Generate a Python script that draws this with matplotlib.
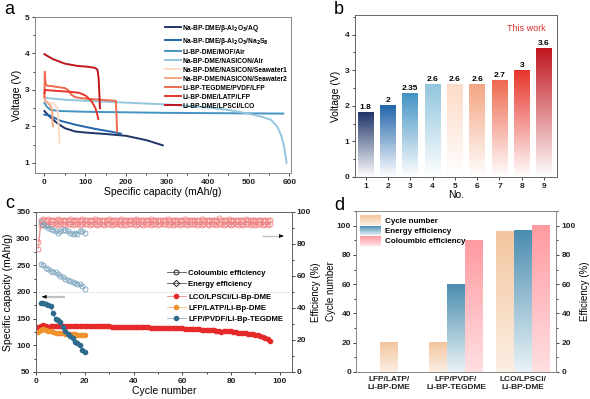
import matplotlib
matplotlib.use("Agg")
import matplotlib.pyplot as plt
import numpy as np
from matplotlib.colors import to_rgb
from matplotlib.legend_handler import HandlerBase
from matplotlib.lines import Line2D
from matplotlib.patches import Rectangle
from matplotlib.ticker import MultipleLocator

plt.rcParams["font.family"] = ["Liberation Sans", "DejaVu Sans"]
plt.rcParams["font.weight"] = "bold"

# ---------------- panel a: discharge curves ----------------
a_labels = [
    "Na-BP-DME/β-Al$_2$O$_3$/AQ",
    "Na-BP-DME/β-Al$_2$O$_3$/Na$_2$S$_8$",
    "Li-BP-DME/MOF/Air",
    "Na-BP-DME/NASICON/Air",
    "Na-BP-DME/NASICON/Seawater1",
    "Na-BP-DME/NASICON/Seawater2",
    "Li-BP-TEGDME/PVDF/LFP",
    "Li-BP-DME/LATP/LFP",
    "Li-BP-DME/LPSCl/LCO",
]
palette = ["#1f3468", "#2166ac", "#4393c3", "#92c5de", "#fddbc7",
           "#f4a582", "#ee6a50", "#e8352b", "#c0161e"]

aq_cap = [0, 10, 30, 50, 75, 100, 150, 200, 250, 290]
aq_v = [2.42, 2.3, 2.1, 1.95, 1.86, 1.83, 1.79, 1.74, 1.62, 1.48]
nas_cap = [0, 12, 40, 78, 120, 160, 188]
nas_v = [2.32, 2.3, 2.15, 2.04, 1.94, 1.86, 1.8]
mof_cap = [0, 5, 15, 40, 100, 300, 585]
mof_v = [2.65, 2.55, 2.45, 2.42, 2.4, 2.37, 2.35]
air_cap = [0, 3, 50, 100, 200, 300, 400, 450, 500, 530, 555, 570, 580, 587, 591, 593]
air_v = [2.82, 2.78, 2.73, 2.7, 2.65, 2.6, 2.52, 2.45, 2.35, 2.27, 2.18, 2.0, 1.75, 1.45, 1.15, 1.0]
sw1_cap = [0, 2, 10, 25, 32, 35, 37]
sw1_v = [2.75, 2.68, 2.65, 2.62, 2.5, 2.0, 1.55]
sw2_cap = [0, 3, 10, 16, 19, 20, 21]
sw2_v = [2.8, 2.7, 2.62, 2.55, 2.4, 2.1, 2.0]
teg_cap = [0, 1, 3, 5, 20, 50, 58, 65, 75, 100, 150, 175, 177, 178]
teg_v = [2.8, 3.5, 3.2, 3.12, 3.1, 3.05, 3.0, 2.88, 2.8, 2.76, 2.72, 2.7, 2.2, 1.85]
latp_cap = [0, 2, 20, 60, 85, 100, 115, 125, 130, 132]
latp_v = [2.9, 3.0, 2.98, 2.95, 2.92, 2.85, 2.7, 2.5, 2.3, 2.2]
lco_cap = [0, 20, 50, 80, 110, 125, 130, 133, 135, 136]
lco_v = [3.98, 3.85, 3.72, 3.66, 3.63, 3.6, 3.55, 3.3, 2.8, 2.5]

a_curves = [(aq_cap, aq_v), (nas_cap, nas_v), (mof_cap, mof_v), (air_cap, air_v),
            (sw1_cap, sw1_v), (sw2_cap, sw2_v), (teg_cap, teg_v),
            (latp_cap, latp_v), (lco_cap, lco_v)]

# ---------------- panel b: voltage bars ----------------
b_no = [1, 2, 3, 4, 5, 6, 7, 8, 9]
b_voltage = [1.8, 2, 2.35, 2.6, 2.6, 2.6, 2.7, 3, 3.6]
b_text = ["1.8", "2", "2.35", "2.6", "2.6", "2.6", "2.7", "3", "3.6"]

# ---------------- panel c: cycling ----------------
lco_cycles = list(range(1, 97))
lco_capacity = [
    135, 137, 139, 136, 135, 136, 136, 136, 136, 136,
    136, 136, 136, 136, 136, 136, 136, 136, 136, 136,
    136, 136, 136, 136, 136, 136, 136, 136, 136, 136,
    135, 135, 135, 135, 135, 135, 135, 134, 134, 134,
    134, 134, 134, 134, 134, 134, 133, 133, 133, 133,
    133, 133, 133, 133, 133, 132, 132, 132, 132, 132,
    131, 131, 131, 130, 130, 130, 130, 129, 129, 129,
    128, 128, 128, 127, 127, 125, 127, 127, 126, 126,
    125, 125, 124, 124, 123, 123, 122, 122, 121, 120,
    119, 117, 115, 113, 111, 108]
lco_ce = [
    81, 95, 95.5, 95.2, 95.4, 95.0, 95.3, 95.1, 95.4, 95.0,
    95.3, 95.2, 95.0, 95.4, 95.1, 95.3, 95.0, 95.2, 95.4, 95.1,
    95.0, 95.3, 95.2, 95.4, 95.0, 95.1, 95.3, 95.2, 95.0, 95.4,
    95.1, 95.3, 95.0, 95.2, 95.4, 95.1, 95.0, 95.3, 95.2, 95.0,
    95.4, 95.1, 95.3, 95.0, 95.2, 95.1, 95.4, 95.0, 95.3, 95.2,
    95.0, 95.1, 95.3, 95.4, 95.0, 95.2, 95.1, 95.3, 95.0, 95.2,
    95.4, 95.1, 95.0, 95.3, 95.2, 95.0, 95.1, 95.4, 95.2, 95.0,
    95.3, 95.1, 95.0, 95.2, 96.2, 95.3, 95.0, 95.1, 95.4, 95.2,
    95.0, 95.3, 95.1, 95.2, 95.0, 95.4, 95.1, 95.3, 95.0, 95.2,
    95.1, 95.3, 95.0, 95.2, 95.1, 95.0]
lco_ee = [
    77, 92, 92.3, 92.6, 92.1, 92.4, 92.2, 92.5, 92.0, 92.3,
    92.6, 92.1, 92.4, 92.2, 92.0, 92.5, 92.3, 92.1, 92.4, 92.2,
    92.6, 92.0, 92.3, 92.5, 92.1, 92.4, 92.2, 92.0, 92.3, 92.6,
    92.1, 92.4, 92.2, 92.5, 92.0, 92.3, 92.1, 92.4, 92.6, 92.2,
    92.0, 92.3, 92.5, 92.1, 92.4, 92.2, 92.0, 92.3, 92.6, 92.1,
    92.4, 92.2, 92.5, 92.0, 92.3, 92.1, 92.4, 92.2, 92.0, 92.5,
    92.3, 92.1, 92.4, 92.2, 92.6, 92.0, 92.3, 92.1, 92.4, 92.2,
    92.0, 92.5, 92.3, 92.1, 92.4, 92.2, 92.0, 92.3, 92.6, 92.1,
    92.4, 92.2, 92.0, 92.3, 92.1, 92.5, 92.2, 92.0, 92.4, 92.1,
    92.3, 92.2, 92.0, 92.4, 92.1, 92.3]
latp_cycles = list(range(1, 21))
latp_capacity = [125, 128, 130, 129, 127, 126, 125, 124, 123, 124,
                 123, 122, 122, 121, 121, 121, 120, 120, 119, 119]
pvdf_cycles = list(range(2, 21))
pvdf_capacity = [180, 180, 178, 176, 173, 160, 150, 147, 143, 135,
                 127, 122, 118, 113, 107, 104, 100, 92, 87]
pvdf_ce = [93.5, 92, 91, 90, 89.5, 89, 88, 87, 88, 89,
           88.5, 88, 87, 86, 87, 86.5, 88, 88, 87]
pvdf_ee = [67.7, 66.7, 65.3, 64.3, 63.3, 62.3, 62.7, 61, 60, 59.3,
           58.3, 57.3, 56.7, 56, 55.7, 55, 54.7, 54, 52]

# ---------------- panel d: summary bars ----------------
d_categories = ["LFP/LATP/\nLi-BP-DME", "LFP/PVDF/\nLi-BP-TEGDME", "LCO/LPSCl/\nLi-BP-DME"]
d_cycle_number = [20, 20, 96]
d_energy_eff = [None, 60, 97]
d_coulombic_eff = [None, 90, 100]


def gradient_bar(ax, x, h, w, top, bottom="white", zorder=2):
    t = np.linspace(0, 1, 200)[:, None]
    c0, c1 = np.array(to_rgb(bottom)), np.array(to_rgb(top))
    img = (c0 + (c1 - c0) * t)[:, None, :]
    ax.imshow(img, extent=[x - w / 2, x + w / 2, 0, h], origin="lower",
              aspect="auto", interpolation="bilinear", zorder=zorder)


class GradientHandler(HandlerBase):
    def __init__(self, top, bottom):
        super().__init__()
        self.top, self.bottom = np.array(to_rgb(top)), np.array(to_rgb(bottom))

    def create_artists(self, legend, orig_handle, xdescent, ydescent, width, height, fontsize, trans):
        n = 16
        arts = []
        for i in range(n):
            c = self.bottom + (self.top - self.bottom) * (i + 0.5) / n
            arts.append(Rectangle((-xdescent, -ydescent + i * height / n), width, height / n + 0.05,
                                  facecolor=c, edgecolor="none", transform=trans))
        return arts


def style_axes(ax, spine_color="#666666"):
    for s in ax.spines.values():
        s.set_color(spine_color)
        s.set_linewidth(0.7)
    ax.tick_params(which="both", direction="out", width=0.6, labelsize=6, pad=1.5, colors="#222222")
    ax.tick_params(which="major", length=2.5)
    ax.tick_params(which="minor", length=1.5)


fig = plt.figure(figsize=(5.9, 3.99), dpi=100)
W, H = 590, 399


def add_axes(l, t, r, b):
    return fig.add_axes([l / W, 1 - b / H, (r - l) / W, (b - t) / H])


# ---- a
ax = add_axes(35, 17, 291, 173)
for (cap, v), c, lab in zip(a_curves, palette, a_labels):
    ax.plot(cap, v, color=c, lw=1.4, label=lab)
ax.set_xlim(-23, 604)
ax.set_ylim(0.72, 5)
ax.xaxis.set_major_locator(MultipleLocator(100))
ax.xaxis.set_minor_locator(MultipleLocator(50))
ax.yaxis.set_major_locator(MultipleLocator(1))
ax.yaxis.set_minor_locator(MultipleLocator(0.5))
style_axes(ax, "#888888")
ax.set_xlabel("Specific capacity (mAh/g)", fontsize=7.5, labelpad=1)
ax.set_ylabel("Voltage (V)", fontsize=7.5, labelpad=2)
ax.legend(loc="upper right", fontsize=4.8, frameon=False, handlelength=2.4,
          handletextpad=0.25, labelspacing=0.3, borderaxespad=0.2,
          bbox_to_anchor=(1.0, 0.99))
fig.text(9 / W, 1 - 9 / H, "a", fontsize=13, weight="normal", ha="center", va="center")

# ---- b
ax = add_axes(355, 15, 557, 177)
for x, v, c, lab in zip(b_no, b_voltage, palette, b_text):
    gradient_bar(ax, x, v, 0.7, c)
    ax.text(x, v + 0.04, lab, ha="center", va="bottom", fontsize=6)
ax.set_xlim(0.52, 9.58)
ax.set_ylim(0, 4.55)
ax.set_xticks(b_no)
ax.yaxis.set_major_locator(MultipleLocator(1))
ax.yaxis.set_minor_locator(MultipleLocator(0.5))
style_axes(ax)
ax.text(8.19, 4.16, "This work", color="#e0302a", fontsize=6.5, weight="normal", ha="center", va="center")
ax.set_xlabel("No.", fontsize=7.5, labelpad=0)
ax.set_ylabel("Voltage (V)", fontsize=7.5, labelpad=3)
fig.text(339 / W, 1 - 10 / H, "b", fontsize=13, weight="normal", ha="center", va="center")

# ---- c
ax = add_axes(36, 212, 292, 372)
ax2 = ax.twinx()
ax.plot(lco_cycles, lco_capacity, "-o", color="#e42a2a", ms=3, lw=0.6, zorder=3)
ax.plot(latp_cycles, latp_capacity, "-o", color="#f0922e", ms=3, lw=0.6, zorder=3)
ax.plot(pvdf_cycles, pvdf_capacity, "-o", color="#2f6b8c", ms=3, lw=0.6, zorder=3)
open_kw = dict(mfc="none", ms=3.6, mew=0.6, lw=0.5)
ax2.plot(lco_cycles, lco_ce, "-o", color="#f07f7f", **open_kw)
ax2.plot(lco_cycles, lco_ee, "-o", color="#f07f7f", **open_kw)
ax2.plot(pvdf_cycles, pvdf_ce, "-o", color="#7ba4bf", **open_kw)
ax2.plot(pvdf_cycles, pvdf_ee, "-o", color="#7ba4bf", **open_kw)
ax.axhline(200, ls=":", color="#bbbbbb", lw=0.6)
ax.set_xlim(0, 105)
ax.set_ylim(50, 350)
ax2.set_ylim(0, 100)
ax.xaxis.set_major_locator(MultipleLocator(20))
ax.xaxis.set_minor_locator(MultipleLocator(10))
ax.yaxis.set_major_locator(MultipleLocator(50))
ax.yaxis.set_minor_locator(MultipleLocator(25))
ax2.yaxis.set_major_locator(MultipleLocator(20))
ax2.yaxis.set_minor_locator(MultipleLocator(10))
style_axes(ax)
style_axes(ax2)
ax2.tick_params(axis="y", pad=1)
# direction arrows
ax.plot([3, 12], [191, 191], color="#c0c0c0", lw=1.6, solid_capstyle="butt")
ax.annotate("", xy=(1.5, 191), xytext=(4, 191),
            arrowprops=dict(arrowstyle="-|>", color="black", lw=0.6, mutation_scale=5))
ax.plot([92.5, 100.5], [305, 305], color="#c0c0c0", lw=1.0, solid_capstyle="butt")
ax.annotate("", xy=(102.5, 305), xytext=(100, 305),
            arrowprops=dict(arrowstyle="-|>", color="black", lw=0.6, mutation_scale=5))
ax.set_xlabel("Cycle number", fontsize=7.5, labelpad=1)
ax.set_ylabel("Specific capacity (mAh/g)", fontsize=7.5, labelpad=2)
ax2.set_ylabel("Efficiency (%)", fontsize=7, labelpad=0)
eff_handles = [
    Line2D([], [], color="#555555", lw=0.6, marker="o", mfc="none", mec="#222222", ms=3.5, mew=0.7),
    Line2D([], [], color="#555555", lw=0.6, marker="D", mfc="none", mec="#222222", ms=3.2, mew=0.7),
]
leg1 = ax.legend(eff_handles, ["Coloumbic efficiency", "Energy efficiency"], loc="upper left",
                 bbox_to_anchor=(0.5, 0.66), fontsize=5.6, frameon=False, handlelength=2.4,
                 handletextpad=0.3, labelspacing=0.45, borderaxespad=0)
ax.add_artist(leg1)
cap_handles = [
    Line2D([], [], color="#f08a8a", lw=0.6, marker="o", mfc="#e42a2a", mec="#e42a2a", ms=3),
    Line2D([], [], color="#f5b57a", lw=0.6, marker="o", mfc="#f0922e", mec="#f0922e", ms=3),
    Line2D([], [], color="#8fb3c8", lw=0.6, marker="o", mfc="#2f6b8c", mec="#2f6b8c", ms=3),
]
ax.legend(cap_handles, ["LCO/LPSCl/Li-Bp-DME", "LFP/LATP/Li-Bp-DME", "LFP/PVDF/Li-Bp-TEGDME"],
          loc="upper left", bbox_to_anchor=(0.5, 0.51), fontsize=5.6, frameon=False,
          handlelength=2.4, handletextpad=0.3, labelspacing=0.45, borderaxespad=0)
fig.text(10 / W, 1 - 204 / H, "c", fontsize=13, weight="normal", ha="center", va="center")

# ---- d
ax = add_axes(356, 211, 556, 372)
ax2 = ax.twinx()
bw = 0.27
series = [(d_cycle_number, "#f3c59e", "#fcefe4"),
          (d_energy_eff, "#4a8db0", "#eaf3f7"),
          (d_coulombic_eff, "#ff9aa0", "#ffdfe2")]
for i in range(len(d_categories)):
    present = [(vals[i], top, bot) for vals, top, bot in series if vals[i] is not None]
    for j, (v, top, bot) in enumerate(present):
        x = i + (j - (len(present) - 1) / 2) * bw
        gradient_bar(ax, x, v, bw, top, bot)
ax.set_xlim(-0.5, 2.5)
ax.set_ylim(0, 110)
ax2.set_ylim(0, 110)
ax.set_xticks(range(len(d_categories)))
ax.set_xticklabels(d_categories, fontsize=6, linespacing=1.1)
for a_ in (ax, ax2):
    a_.yaxis.set_major_locator(MultipleLocator(20))
    a_.yaxis.set_minor_locator(MultipleLocator(10))
style_axes(ax, "#888888")
style_axes(ax2, "#888888")
ax.tick_params(axis="x", length=0, pad=3)
ax.tick_params(axis="y", pad=1)
ax.set_ylabel("Cycle number", fontsize=7, weight="normal", labelpad=1)
ax2.set_ylabel("Efficiency (%)", fontsize=7, weight="normal", labelpad=3)
d_handles = [Rectangle((0, 0), 1, 1) for _ in series]
ax.legend(d_handles, ["Cycle number", "Energy efficiency", "Coloumbic efficiency"],
          handler_map={h: GradientHandler(top, bot) for h, (_, top, bot) in zip(d_handles, series)},
          loc="upper left", bbox_to_anchor=(0.0, 1.0), fontsize=5.8, frameon=False,
          handlelength=2.6, handleheight=1.5, labelspacing=0.05, handletextpad=0.4,
          borderaxespad=0.15)
fig.text(339 / W, 1 - 205 / H, "d", fontsize=13, weight="normal", ha="center", va="center")

fig.savefig("out.png", dpi=100)
